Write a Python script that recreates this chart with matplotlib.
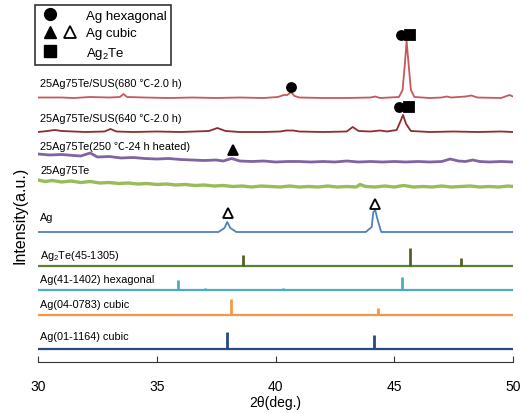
import matplotlib
matplotlib.use("Agg")
import matplotlib.pyplot as plt
from matplotlib.lines import Line2D
from matplotlib.legend_handler import HandlerTuple

plt.rcParams['font.family'] = ['Liberation Sans', 'Noto Sans CJK JP', 'DejaVu Sans']
plt.rcParams['mathtext.fontset'] = 'custom'
plt.rcParams['mathtext.rm'] = 'Liberation Sans'

# ---- measured patterns (2theta, intensity above baseline, a.u.) ----
x_680 = [30, 31.0, 31.5, 32.2, 33.0, 33.45, 33.6, 33.75, 34.5, 35.5, 36.5, 37.5, 38.5,
         39.5, 40.1, 40.35, 40.5, 40.65, 40.8, 41.0, 42.0, 43.0, 44.0, 44.2, 44.4, 45.2,
         45.35, 45.45, 45.52, 45.6, 45.7, 45.85, 46.5, 47.0, 47.2, 47.4, 48.0, 48.25,
         48.5, 49.5, 49.85, 50]
y_680 = [0.5, 0.5, 0, 1, 0.5, 1, 4, 1, 0.5, 0, 0.5, 0, 0.5,
         0, 1, 3, 3, 6, 2, 0.5, 0, 0, 0.5, 1.5, 0, 1,
         8, 35, 57, 35, 8, 1, 0, 0.5, 1.5, 0.5, 1.5, 2.5,
         0.5, 0, 3, 1.5]

x_640 = [30, 30.4, 30.7, 31.0, 31.5, 32.0, 32.8, 33.05, 33.3, 34, 35, 36, 37.2, 37.55,
         37.9, 38.5, 39.5, 40.2, 40.45, 40.75, 41.0, 42, 43.0, 43.25, 43.5, 44.0, 44.4,
         44.7, 45.1, 45.25, 45.37, 45.5, 45.7, 46.5, 47.5, 48.5, 49.5, 50]
y_640 = [0, 1, 2, 1, 0.5, 0, 0.5, 3, 0.5, 0, 0.5, 0, 1, 4,
         1, 0, 0, 0.5, 1.5, 1.5, 0.5, 0, 0.5, 5, 1, 0.5, 1.5,
         0.5, 2, 10, 17, 8, 1, 0, 0.5, 0, 0.5, 0]

x_250 = [30, 30.5, 31, 31.5, 31.8, 32.2, 32.5, 33, 33.5, 34, 34.5, 35, 35.5, 36, 36.5,
         37, 37.5, 37.8, 38.15, 38.5, 39, 39.5, 40, 40.5, 41, 41.5, 42, 42.5, 43, 43.5,
         44, 44.5, 45, 45.5, 46, 46.5, 47.0, 47.35, 47.7, 48.0, 48.3, 48.6, 49, 49.5, 50]
y_250 = [8, 7, 7.5, 6.5, 6, 9, 5, 5.5, 4, 4.5, 3.5, 3, 3.5, 2.5, 2,
         1.5, 2, 1, 3.5, 1, 0.5, 1, 0, 0.5, 0.5, 0, 0.5, 0, 1, 0,
         0.5, 0, 0.5, 0, 0.5, 0, 0.5, 3, 1, 0.5, 2, 0.5, 0, 0.5, 0]

x_raw = [30, 30.3, 30.6, 31, 31.4, 31.8, 32.2, 32.6, 33, 33.4, 33.8, 34.2, 34.6, 35, 35.4,
         35.8, 36.2, 36.6, 37, 37.4, 37.8, 38.2, 38.6, 39, 39.4, 39.8, 40.2, 40.6, 41,
         41.4, 41.8, 42.2, 42.6, 43, 43.4, 43.56, 43.8, 44.2, 44.6, 45, 45.4, 45.8, 46.2,
         46.6, 47, 47.4, 47.8, 48.2, 48.6, 49, 49.4, 49.8, 50]
y_raw = [7, 5.5, 6.5, 5, 6, 4.5, 5.5, 4, 4.5, 3.5, 4, 3, 3.5, 2.5, 3,
         2, 2.5, 1.5, 2, 1, 1.5, 0.5, 1, 0, 1, 0.5, 0, 1, 0,
         0.5, 0, 1, 0, 0.5, 0, 2.5, 0.5, 0, 1, 0, 1.5, 0, 0.5,
         0, 1, 0, 0.5, 1, 0, 0.5, 0, 1, 0.5]

x_ag = [30, 37.6, 37.85, 37.97, 38.1, 38.35, 43.8, 44.05, 44.12, 44.2, 44.28, 44.45, 50]
y_ag = [0, 0, 4, 10, 4, 0, 0, 5, 20, 22, 14, 0, 0]

# ---- reference stick patterns (position, intensity) ----
pos_ag2te = [38.64, 45.65, 47.81]
int_ag2te = [10.7, 17.7, 7.4]
pos_hex = [35.88, 37.03, 40.3, 45.33]
int_hex = [10, 2, 2, 13]
pos_0783 = [38.11, 44.3]
int_0783 = [16, 7.7]
pos_1164 = [37.94, 44.16]
int_1164 = [17.7, 14.3]

# phase markers: (2theta, height above baseline, marker, filled)
marks_680 = [(40.65, 11, 'o', True), (45.3, 63, 'o', True), (45.68, 63, 's', True)]
marks_640 = [(45.22, 25, 'o', True), (45.6, 25, 's', True)]
marks_250 = [(38.2, 12, '^', True)]
marks_ag = [(38.0, 19, '^', False), (44.2, 28, '^', False)]

fig = plt.figure(figsize=(5.24, 4.14), dpi=100)
ax = fig.add_axes([38 / 524, 51 / 414, 475 / 524, 363 / 414])
ax.set_xlim(30, 50)
ax.set_ylim(0, 363)

measured = [
    ("25Ag75Te/SUS(680 \u2103-2.0 h)", x_680, y_680, 264, '#C8575A', 1.3, 279, marks_680),
    ("25Ag75Te/SUS(640 \u2103-2.0 h)", x_640, y_640, 230, '#8E2C2E', 1.3, 244, marks_640),
    ("25Ag75Te(250 \u2103-24 h heated)", x_250, y_250, 200, '#8064A2', 2.0, 216, marks_250),
    ("25Ag75Te", x_raw, y_raw, 175, '#9BBB59', 2.4, 192, []),
    ("Ag", x_ag, y_ag, 130, '#4F81BD', 1.3, 145, marks_ag),
]
for label, xs, ys, off, col, lw, ty, marks in measured:
    ax.plot(xs, [v + off for v in ys], color=col, lw=lw, solid_joinstyle='round')
    ax.text(30.1, ty, label, fontsize=7.8, va='center', ha='left')
    for px, h, m, filled in marks:
        ax.plot(px, off + h, marker=m, ms=6.5 if m != '^' else 7.5,
                mfc='black' if filled else 'white', mec='black', mew=1.3,
                clip_on=False, zorder=5)

sticks = [
    ("Ag$_2$Te(45-1305)", pos_ag2te, int_ag2te, 96.3, '#607F34', '#4F6228', 107),
    ("Ag(41-1402) hexagonal", pos_hex, int_hex, 71.7, '#4BACC6', '#4BACC6', 83),
    ("Ag(04-0783) cubic", pos_0783, int_0783, 46.7, '#F79646', '#F79646', 58),
    ("Ag(01-1164) cubic", pos_1164, int_1164, 12.7, '#254A7E', '#254A7E', 26),
]
for label, pos, ints, off, bcol, scol, ty in sticks:
    ax.plot([30, 50], [off, off], color=bcol, lw=1.6)
    ax.vlines(pos, off, [v + off for v in ints], color=scol, lw=2.0)
    ax.text(30.1, ty, label, fontsize=7.8, va='center', ha='left')

for s in ['left', 'right', 'top']:
    ax.spines[s].set_visible(False)
ax.spines['bottom'].set_color('#333333')
ax.spines['bottom'].set_linewidth(0.8)
ax.set_yticks([])
ax.set_xticks([30, 35, 40, 45, 50])
ax.tick_params(axis='x', direction='in', length=4, width=0.8, color='#333333',
               labelsize=10, pad=12)
ax.set_xlabel("2\u03b8(deg.)", fontsize=10, labelpad=2)
fig.text(20 / 524, 1 - 215 / 414, "Intensity(a.u.)", rotation=90,
         fontsize=11.5, va='center', ha='center')

blank = Line2D([], [], ls='none')
h_hex = (Line2D([], [], ls='none', marker='o', ms=8.5, color='black'), blank)
h_cub = (Line2D([], [], ls='none', marker='^', ms=9, color='black'),
         Line2D([], [], ls='none', marker='^', ms=9, mfc='white', mec='black', mew=1.3))
h_te = (Line2D([], [], ls='none', marker='s', ms=8, color='black'), blank)
leg = ax.legend([h_hex, h_cub, h_te], ["Ag hexagonal", "Ag cubic", "Ag$_2$Te"],
                handler_map={tuple: HandlerTuple(ndivide=None, pad=0)},
                loc='upper left', bbox_to_anchor=(35 / 524, 1 - 6 / 414),
                bbox_transform=fig.transFigure, fontsize=9.5, frameon=True,
                fancybox=False, edgecolor='black', handlelength=3.1,
                handletextpad=0.4, labelspacing=0.4, borderpad=0.35,
                borderaxespad=0)
leg.get_frame().set_linewidth(1.2)

fig.savefig("out.png", dpi=100)
